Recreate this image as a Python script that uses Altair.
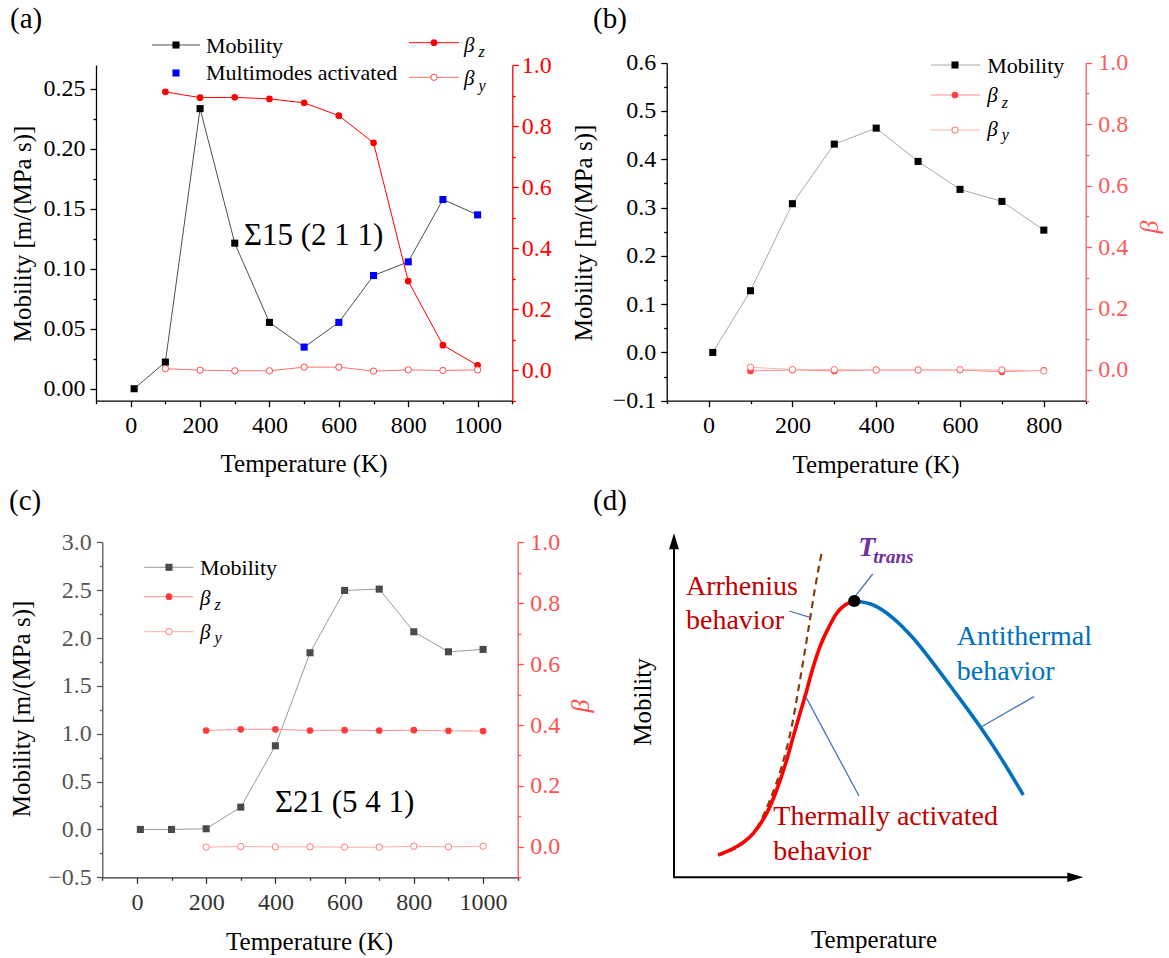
import altair as alt
import pandas as pd

FONT = "Liberation Serif"
W, H = 1169, 958

# ---------------- values ----------------
# (a) Sigma15 (2 1 1)
a_T = [10, 100, 200, 300, 400, 500, 600, 700, 800, 900, 1000]
a_mobility = [0.0, 0.0222, 0.2336, 0.1214, 0.0553, 0.0347, 0.0553, 0.0944, 0.1058, 0.1578, 0.1450]
a_mode = ["single", "single", "single", "single", "single", "multi", "multi", "multi", "multi", "multi", "multi"]
a_beta_T = [100, 200, 300, 400, 500, 600, 700, 800, 900, 1000]
a_beta_z = [0.912, 0.893, 0.894, 0.889, 0.876, 0.834, 0.745, 0.292, 0.082, 0.016]
a_beta_y = [0.005, 0.000, -0.002, -0.002, 0.010, 0.010, -0.003, 0.001, -0.001, 0.001]

# (b)
b_T = [10, 100, 200, 300, 400, 500, 600, 700, 800]
b_mobility = [0.0, 0.1277, 0.3080, 0.4314, 0.4645, 0.3956, 0.3376, 0.3127, 0.2533]
b_beta_T = [100, 200, 300, 400, 500, 600, 700, 800]
b_beta_z = [-0.003, 0.000, -0.003, 0.000, 0.000, 0.000, -0.006, -0.001]
b_beta_y = [0.009, 0.001, 0.001, 0.000, 0.000, 0.001, 0.000, -0.003]

# (c) Sigma21 (5 4 1)
c_T = [10, 100, 200, 300, 400, 500, 600, 700, 800, 900, 1000]
c_mobility = [0.0, 0.0, 0.007, 0.233, 0.874, 1.846, 2.497, 2.511, 2.065, 1.856, 1.881]
c_beta_T = [200, 300, 400, 500, 600, 700, 800, 900, 1000]
c_beta_z = [0.382, 0.386, 0.386, 0.382, 0.383, 0.382, 0.383, 0.381, 0.380]
c_beta_y = [-0.001, 0.001, 0.000, 0.000, -0.001, -0.001, 0.002, 0.000, 0.002]

# tick values
x1000_major = [0, 200, 400, 600, 800, 1000]
x1000_minor = [-100, 100, 300, 500, 700, 900, 1100]
x800_major = [0, 200, 400, 600, 800]
x800_minor = [-100, 100, 300, 500, 700, 900]
a_y_major = [0.00, 0.05, 0.10, 0.15, 0.20, 0.25]
a_y_minor = [0.025, 0.075, 0.125, 0.175, 0.225]
b_y_major = [-0.1, 0.0, 0.1, 0.2, 0.3, 0.4, 0.5, 0.6]
b_y_minor = [-0.05, 0.05, 0.15, 0.25, 0.35, 0.45, 0.55]
c_y_major = [-0.5, 0.0, 0.5, 1.0, 1.5, 2.0, 2.5, 3.0]
c_y_minor = [-0.25, 0.25, 0.75, 1.25, 1.75, 2.25, 2.75]
beta_major = [0.0, 0.2, 0.4, 0.6, 0.8, 1.0]
beta_minor = [-0.1, 0.1, 0.3, 0.5, 0.7, 0.9]

# (d) schematic curve (arbitrary units)
d_rise_T = [44.3, 62.7, 79.3, 92.7, 102.7, 112.7, 119.3, 126, 131, 139.3, 146, 154.3, 162.7, 171, 180.3]
d_rise_M = [22.3, 30.7, 44.0, 64.0, 87.3, 117.3, 140.7, 164.0, 180.7, 210.7, 230.7, 249.0, 264.0, 272.3, 276.3]
d_fall_T = [180.3, 199.3, 219.3, 239.3, 259.3, 279.3, 306.0, 326.0, 349.3]
d_fall_M = [276.3, 272.3, 259.0, 239.0, 214.0, 187.3, 150.7, 120.7, 82.3]
d_arr_T = [44.3, 79.3, 96.0, 107.7, 117.7, 126.0, 134.3, 141.0, 148.3]
d_arr_M = [22.3, 44.0, 77.3, 110.7, 150.7, 197.3, 247.3, 289.0, 328.0]
d_peak_T = [180.3]
d_peak_M = [276.3]
d_lead_T1 = [115.3, 198.7, 131.7, 360.0]
d_lead_M1 = [266.3, 303.3, 180.7, 180.7]
d_lead_T2 = [136.0, 181.0, 185.0, 306.7]
d_lead_M2 = [260.0, 280.7, 81.3, 150.0]
d_labels = ["Arrhenius", "behavior", "Antithermal", "behavior", "Thermally activated", "behavior"]
d_label_T = [12.0, 12.0, 282.7, 282.7, 99.3, 99.3]
d_label_M = [290.8, 256.8, 240.3, 205.6, 60.1, 25.1]
d_label_color = ["#C00000", "#C00000", "#0070C0", "#0070C0", "#C00000", "#C00000"]

one = pd.DataFrame({"k": [0]})


def axis(orient, offset, values, color, fmt=None, tick=6, labels=True, domain=True,
         label_color=None, pad=6):
    kw = dict(orient=orient, offset=offset, values=values, title=None, grid=False,
              domain=domain, domainColor=color, domainWidth=1.3,
              ticks=True, tickColor=color, tickWidth=1.3, tickSize=tick,
              labels=labels, labelOverlap=False, labelFlush=False, labelBound=False)
    if labels:
        kw.update(format=fmt, labelFont=FONT, labelFontSize=24,
                  labelColor=label_color or color, labelPadding=pad)
    return alt.Axis(**kw)


def vrule(x1, x2, y, color, w=1.0):
    return alt.Chart(one).mark_rule(color=color, strokeWidth=w).encode(
        x=alt.value(x1), x2=alt.value(x2), y=alt.value(y))


def vpoint(x, y, shape, size, fill, stroke=None, sw=1.0):
    kw = dict(shape=shape, size=size, filled=True, fill=fill, opacity=1)
    if stroke:
        kw.update(stroke=stroke, strokeWidth=sw)
    else:
        kw.update(strokeWidth=0)
    return alt.Chart(one).mark_point(**kw).encode(x=alt.value(x), y=alt.value(y))


def vtext(s, x, y, size, color="black", style="normal", weight="normal", align="left", angle=0):
    kw = dict(text=s, font=FONT, fontSize=size, color=color, align=align, baseline="middle",
              fontStyle=style, fontWeight=weight)
    if angle:
        kw["angle"] = angle
    return alt.Chart(one).mark_text(**kw).encode(x=alt.value(x), y=alt.value(y))


def beta_label(sub, x, y_beta, y_sub, color="black"):
    return [vtext("β", x, y_beta, 21, color=color, style="italic"),
            vtext(sub, x + 14.5, y_sub, 16, color=color, style="italic")]


def data_panel(g, T, mob, bT, bz, by, xdom, xmaj, xmin, ydom, ymaj, ymin, yfmt, st, mode=None):
    xs = alt.Scale(domain=xdom, range=[g["x0"], g["x1"]], nice=False, zero=False)
    ys = alt.Scale(domain=ydom, range=[g["yb"], g["yt"]], nice=False, zero=False)
    rs = alt.Scale(domain=[-0.1, 1.0], range=[g["yb"], g["yt"]], nice=False, zero=False)
    ob, ol, orr = g["yb"] - H, -g["x0"], g["x1"] - W
    dm = pd.DataFrame({"T": T, "M": mob})
    if mode:
        dm["mode"] = mode
    db = pd.DataFrame({"T": bT, "bz": bz, "by": by})
    L = []
    L.append(alt.Chart(dm).mark_line(color=st["mline"], strokeWidth=1).encode(
        x=alt.X("T:Q", scale=xs, axis=axis("bottom", ob, xmaj, st["xcol"], "d", pad=7)),
        y=alt.Y("M:Q", scale=ys, axis=axis("left", ol, ymaj, st["lcol"], yfmt,
                                            label_color=st["llab"], pad=5))))
    if mode:
        pc = alt.Color("mode:N", scale=alt.Scale(domain=["single", "multi"],
                                                 range=["#000000", "#0000FF"]), legend=None)
    else:
        pc = alt.value(st["mpt"])
    L.append(alt.Chart(dm).mark_point(shape="square", filled=True, size=50, opacity=1,
                                      strokeWidth=0).encode(
        x=alt.X("T:Q", scale=xs, axis=axis("bottom", ob, xmin, st["xcol"], tick=3,
                                           labels=False, domain=False)),
        y=alt.Y("M:Q", scale=ys, axis=axis("left", ol, ymin, st["lcol"], tick=3,
                                           labels=False, domain=False)),
        color=pc))
    L.append(alt.Chart(db).mark_line(color=st["zline"], strokeWidth=1).encode(
        x=alt.X("T:Q", scale=xs, axis=None),
        y=alt.Y("bz:Q", scale=rs, axis=axis("right", orr, beta_major, st["rcol"], ".1f",
                                             pad=st["rpad"]))))
    L.append(alt.Chart(db).mark_point(shape="circle", filled=True, size=45, opacity=1,
                                      strokeWidth=0, color=st["zpt"]).encode(
        x=alt.X("T:Q", scale=xs, axis=None),
        y=alt.Y("bz:Q", scale=rs, axis=axis("right", orr, beta_minor, st["rcol"], tick=3,
                                             labels=False, domain=False))))
    L.append(alt.Chart(db).mark_line(color=st["yline"], strokeWidth=1).encode(
        x=alt.X("T:Q", scale=xs, axis=None),
        y=alt.Y("by:Q", scale=rs, axis=None)))
    L.append(alt.Chart(db).mark_point(shape="circle", filled=True, fill="white", stroke=st["ypt"],
                                      strokeWidth=1, size=40, opacity=1).encode(
        x=alt.X("T:Q", scale=xs, axis=None),
        y=alt.Y("by:Q", scale=rs, axis=None)))
    return L


GA = dict(x0=96.0, x1=512.3, yt=65.0, yb=400.7)
GB = dict(x0=666.7, x1=1085.7, yt=62.7, yb=400.7)
GC = dict(x0=102.3, x1=517.7, yt=542.3, yb=877.3)

ST_A = dict(mline="#505050", mpt="#000000", xcol="#000000", lcol="#000000", llab="#000000",
            rcol="#FF0000", zline="#FF0000", zpt="#FF0000", yline="#FF7070", ypt="#FF4848", rpad=3)
ST_B = dict(mline="#A8A8A8", mpt="#000000", xcol="#000000", lcol="#000000", llab="#000000",
            rcol="#FF5A5A", zline="#FF8C8C", zpt="#FF4040", yline="#FFB0B0", ypt="#FF7070", rpad=6)
ST_C = dict(mline="#9A9A9A", mpt="#4A4A4A", xcol="#333333", lcol="#555555", llab="#555555",
            rcol="#FF5050", zline="#FF9090", zpt="#FF3B3B", yline="#FFAAAA", ypt="#FF7A7A", rpad=6)

layers = []
layers += data_panel(GA, a_T, a_mobility, a_beta_T, a_beta_z, a_beta_y, [-100, 1100],
                     x1000_major, x1000_minor, [-0.01, 0.27], a_y_major, a_y_minor, ".2f",
                     ST_A, mode=a_mode)
layers += data_panel(GB, b_T, b_mobility, b_beta_T, b_beta_z, b_beta_y, [-100, 900],
                     x800_major, x800_minor, [-0.1, 0.6], b_y_major, b_y_minor, ".1f", ST_B)
layers += data_panel(GC, c_T, c_mobility, c_beta_T, c_beta_z, c_beta_y, [-100, 1100],
                     x1000_major, x1000_minor, [-0.5, 3.0], c_y_major, c_y_minor, ".1f", ST_C)

# ---- panel labels, axis titles, annotations
panel_labels = ["(a)", "(b)", "(c)", "(d)"]
for s, x, y in zip(panel_labels, [10, 593, 9, 593], [19, 19, 501, 501]):
    layers.append(vtext(s, x, y, 29))

ytitle = "Mobility [m/(MPa s)]"
xtitle = "Temperature (K)"
layers += [
    vtext(ytitle, 23, 234, 25, align="center", angle=270),
    vtext(ytitle, 584, 233, 25, align="center", angle=270),
    vtext(ytitle, 22, 709, 25, align="center", angle=270),
    vtext(xtitle, 304, 463.5, 25, align="center"),
    vtext(xtitle, 876, 464.5, 25, align="center"),
    vtext(xtitle, 309.5, 941.5, 25, align="center"),
    vtext("β", 1150, 227, 26, color="#FF5A5A", style="italic", align="center", angle=270),
    vtext("β", 581, 706, 26, color="#FF5050", style="italic", align="center", angle=270),
    vtext("Σ15 (2 1 1)", 244, 236, 31),
    vtext("Σ21 (5 4 1)", 275, 803, 31),
]

# ---- legends
legend_mob = "Mobility"
legend_multi = "Multimodes activated"
# (a)
layers += [
    vrule(152, 200, 45, ST_A["mline"]), vpoint(176, 45, "square", 50, "#000000"),
    vtext(legend_mob, 206, 46, 22),
    vpoint(176, 73, "square", 50, "#0000FF"),
    vtext(legend_multi, 206, 73.3, 22),
    vrule(409, 459, 42.7, ST_A["zline"]), vpoint(434, 42.7, "circle", 45, ST_A["zpt"]),
    vrule(409, 459, 77.3, ST_A["yline"]), vpoint(434, 77.3, "circle", 40, "white", ST_A["ypt"]),
]
layers += beta_label("z", 464, 46.0, 51.9)
layers += beta_label("y", 464, 79.4, 85.9)
# (b)
layers += [
    vrule(931, 980, 65, ST_B["mline"]), vpoint(955, 65, "square", 50, "#000000"),
    vtext(legend_mob, 987.3, 65.8, 22),
    vrule(931, 980, 95, ST_B["zline"]), vpoint(955, 95, "circle", 45, ST_B["zpt"]),
    vrule(931, 980, 130, ST_B["yline"]), vpoint(955, 130, "circle", 40, "white", ST_B["ypt"]),
]
layers += beta_label("z", 987.3, 96.1, 103.0)
layers += beta_label("y", 987.3, 130.3, 134.6)
# (c)
layers += [
    vrule(144.3, 193.3, 567.3, ST_C["mline"]), vpoint(169, 567.3, "square", 50, ST_C["mpt"]),
    vtext(legend_mob, 200, 567.5, 22),
    vrule(144.3, 193.3, 596.7, ST_C["zline"]), vpoint(169, 596.7, "circle", 45, ST_C["zpt"]),
    vrule(144.3, 193.3, 631.7, ST_C["yline"]), vpoint(169, 631.7, "circle", 40, "white", ST_C["ypt"]),
]
layers += beta_label("z", 200, 598.6, 605.2)
layers += beta_label("y", 200, 632.6, 637.8)

# ---- panel (d) schematic
xs_d = alt.Scale(domain=[0, 409.3], range=[674, 1083.3], nice=False, zero=False)
ys_d = alt.Scale(domain=[0, 344], range=[877.3, 533.3], nice=False, zero=False)


def dX(f):
    return alt.X(f, scale=xs_d, axis=None)


def dY(f):
    return alt.Y(f, scale=ys_d, axis=None)


def dline(u, v, color, w, dash=None, interp="monotone"):
    df = pd.DataFrame({"u": u, "v": v, "o": list(range(len(u)))})
    kw = dict(color=color, strokeWidth=w, interpolate=interp)
    if dash:
        kw["strokeDash"] = dash
    return alt.Chart(df).mark_line(**kw).encode(x=dX("u:Q"), y=dY("v:Q"), order="o:Q")


# axes with arrows
d_axis_T = [0, 0, 401]
d_axis_M = [336, 0, 0]
layers.append(dline(d_axis_T, d_axis_M, "#000000", 2, interp="linear"))
layers.append(alt.Chart(pd.DataFrame({"u": [0], "v": [336]})).mark_point(
    shape="M0,-1L0.62,1L-0.62,1Z", size=256, filled=True, fill="#000000", strokeWidth=0,
    opacity=1).encode(x=dX("u:Q"), y=dY("v:Q")))
layers.append(alt.Chart(pd.DataFrame({"u": [401.3], "v": [0]})).mark_point(
    shape="M1,0L-1,-0.6L-1,0.6Z", size=256, filled=True, fill="#000000", strokeWidth=0,
    opacity=1).encode(x=dX("u:Q"), y=dY("v:Q")))

layers.append(dline(d_arr_T, d_arr_M, "#843C0C", 2.2, dash=[7, 5]))
layers.append(dline(d_rise_T, d_rise_M, "#FF0000", 3.6))
layers.append(dline(d_fall_T, d_fall_M, "#0070C0", 3.6))
layers.append(alt.Chart(pd.DataFrame({"u1": d_lead_T1, "v1": d_lead_M1, "u2": d_lead_T2,
                                      "v2": d_lead_M2})).mark_rule(
    color="#4472C4", strokeWidth=1.3).encode(x=dX("u1:Q"), y=dY("v1:Q"), x2="u2:Q", y2="v2:Q"))
layers.append(alt.Chart(pd.DataFrame({"u": d_peak_T, "v": d_peak_M})).mark_point(
    shape="circle", size=150, filled=True, fill="#000000", strokeWidth=0, opacity=1).encode(
    x=dX("u:Q"), y=dY("v:Q")))

for s, u, v, col in zip(d_labels, d_label_T, d_label_M, d_label_color):
    layers.append(alt.Chart(pd.DataFrame({"u": [u], "v": [v], "t": [s]})).mark_text(
        font=FONT, fontSize=28, color=col, align="left", baseline="middle").encode(
        x=dX("u:Q"), y=dY("v:Q"), text="t:N"))

layers.append(alt.Chart(pd.DataFrame({"u": [184.3], "v": [329.8], "t": ["T"]})).mark_text(
    font=FONT, fontSize=28, color="#7030A0", fontStyle="italic", fontWeight="bold",
    align="left", baseline="middle").encode(x=dX("u:Q"), y=dY("v:Q"), text="t:N"))
layers.append(alt.Chart(pd.DataFrame({"u": [199.3], "v": [320.6], "t": ["trans"]})).mark_text(
    font=FONT, fontSize=19, color="#7030A0", fontStyle="italic", fontWeight="bold",
    align="left", baseline="middle").encode(x=dX("u:Q"), y=dY("v:Q"), text="t:N"))

layers += [
    vtext("Mobility", 643, 702, 25, align="center", angle=270),
    vtext("Temperature", 874, 940, 25, align="center"),
]

chart = alt.layer(*layers).resolve_scale(
    x="independent", y="independent", color="independent"
).properties(
    width=W, height=H, autosize=alt.AutoSizeParams(type="none"), padding=0,
    background="white"
).configure_view(stroke=None)

chart.save("out.html", embed_options={"renderer": "svg", "actions": False})
